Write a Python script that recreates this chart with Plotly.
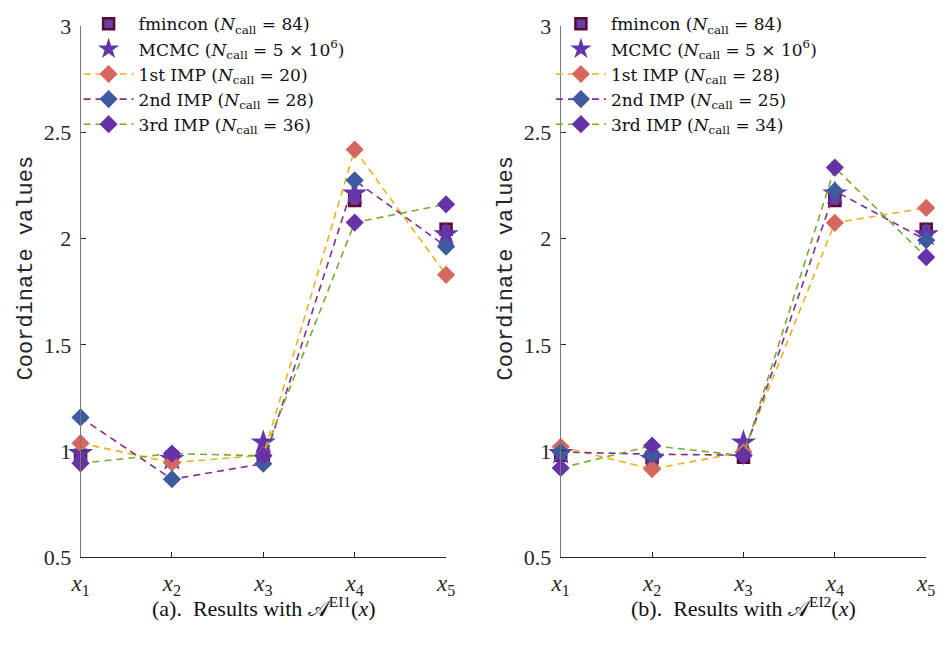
import plotly.graph_objects as go

coords = [1, 2, 3, 4, 5]
tick_labels = ["<i>x</i><sub>1</sub>", "<i>x</i><sub>2</sub>", "<i>x</i><sub>3</sub>",
               "<i>x</i><sub>4</sub>", "<i>x</i><sub>5</sub>"]
y_ticks = [0.5, 1, 1.5, 2, 2.5, 3]
y_tick_labels = ["0.5", "1", "1.5", "2", "2.5", "3"]

fmincon = [0.98, 0.97, 0.97, 2.18, 2.045]
mcmc = [0.99, 0.962, 1.04, 2.213, 2.02]

a_imp1 = [1.037, 0.945, 0.98, 2.42, 1.83]
a_imp2 = [1.158, 0.867, 0.94, 2.275, 1.963]
a_imp3 = [0.942, 0.988, 0.977, 2.076, 2.162]

b_imp1 = [1.02, 0.915, 0.995, 2.075, 2.145]
b_imp2 = [0.995, 0.985, 0.98, 2.225, 1.993]
b_imp3 = [0.92, 1.025, 0.978, 2.335, 1.913]

ncall_a = [20, 28, 36]
ncall_b = [28, 25, 34]

LINE_COLORS = ["#EDB120", "#7E2F8E", "#77AC30"]
MARK_COLORS = ["#D6675F", "#3F5BA0", "#6633A6"]
NAMES = ["1st", "2nd", "3rd"]

FONT = "Liberation Serif"

fig = go.Figure()

def add_panel(col, imps, ncalls, legend):
    xa = "x" if col == 1 else "x2"
    ya = "y" if col == 1 else "y2"
    fig.add_trace(go.Scatter(
        x=coords, y=fmincon, mode="markers", xaxis=xa, yaxis=ya, legend=legend,
        name="fmincon (<i>N</i><sub>call</sub> = 84)", cliponaxis=False,
        marker=dict(symbol="square", size=11, color="#6A3FA8",
                    line=dict(color="#5C0A30", width=2.5))))
    fig.add_trace(go.Scatter(
        x=coords, y=mcmc, mode="markers", xaxis=xa, yaxis=ya, legend=legend,
        name="MCMC (<i>N</i><sub>call</sub> = 5 × 10<sup>6</sup>)", cliponaxis=False,
        marker=dict(symbol="star", size=19, color="#6236A8", line=dict(width=0))))
    for i, vals in enumerate(imps):
        fig.add_trace(go.Scatter(
            x=coords, y=vals, mode="lines+markers", xaxis=xa, yaxis=ya, legend=legend,
            name=f"{NAMES[i]} IMP (<i>N</i><sub>call</sub> = {ncalls[i]})", cliponaxis=False,
            line=dict(color=LINE_COLORS[i], width=1.6, dash="7px,5px"),
            marker=dict(symbol="diamond", size=14, color=MARK_COLORS[i], line=dict(width=0))))

add_panel(1, [a_imp1, a_imp2, a_imp3], ncall_a, "legend")
add_panel(2, [b_imp1, b_imp2, b_imp3], ncall_b, "legend2")

W, H = 946, 648
d1 = [72 / W, 445 / W]
d2 = [562 / W, 935 / W]
ydom = [(H - 567) / H, (H - 15) / H]

xcommon = dict(range=[1, 5], tickvals=coords, ticktext=tick_labels, ticks="inside",
               ticklen=5, tickcolor="#262626", showline=True, linecolor="#262626",
               linewidth=1, showgrid=False, zeroline=False, ticklabelstandoff=5,
               tickfont=dict(family=FONT, size=23, color="#262626"))
ycommon = dict(range=[0.5, 3], tickvals=y_ticks, ticktext=y_tick_labels, ticks="inside",
               ticklen=5, tickcolor="#262626", showline=True, linecolor="#777777",
               linewidth=1, showgrid=False, zeroline=False, ticklabelstandoff=4,
               tickfont=dict(family=FONT, size=22, color="#262626"))

legcommon = dict(font=dict(family="DejaVu Serif", size=17, color="#111111"),
                 bgcolor="rgba(255,255,255,0)", tracegroupgap=0,
                 xanchor="left", yanchor="top", itemwidth=50)

ytitle = dict(text="Coordinate values", xref="paper", yref="paper", showarrow=False,
              textangle=-90, xanchor="center", yanchor="middle", y=1 - 267 / H,
              font=dict(family="Liberation Mono", size=22, color="#262626"))
subtitle = dict(xref="paper", yref="paper", showarrow=False, xanchor="center",
                yanchor="top", y=1 - 602 / H,
                font=dict(family=FONT, size=22, color="#111111"))

fig.update_layout(
    width=W, height=H, margin=dict(l=0, r=0, t=0, b=0),
    paper_bgcolor="white", plot_bgcolor="white",
    xaxis=dict(domain=d1, anchor="y", **xcommon),
    yaxis=dict(domain=ydom, anchor="x", **ycommon),
    xaxis2=dict(domain=d2, anchor="y2", **xcommon),
    yaxis2=dict(domain=ydom, anchor="x2", **ycommon),
    legend=dict(x=70 / W, y=1 + 6 / H, **legcommon),
    legend2=dict(x=552 / W, y=1 + 6 / H, **legcommon),
    annotations=[
        dict(ytitle, x=17 / W),
        dict(ytitle, x=507 / W),
        dict(subtitle, text="(a).  Results with 𝒜<sup>EI1</sup>(<i>x</i>)",
             x=(d1[0] + d1[1]) / 2),
        dict(subtitle, text="(b).  Results with 𝒜<sup>EI2</sup>(<i>x</i>)",
             x=(d2[0] + d2[1]) / 2),
    ],
)

fig.write_html("out.html")
